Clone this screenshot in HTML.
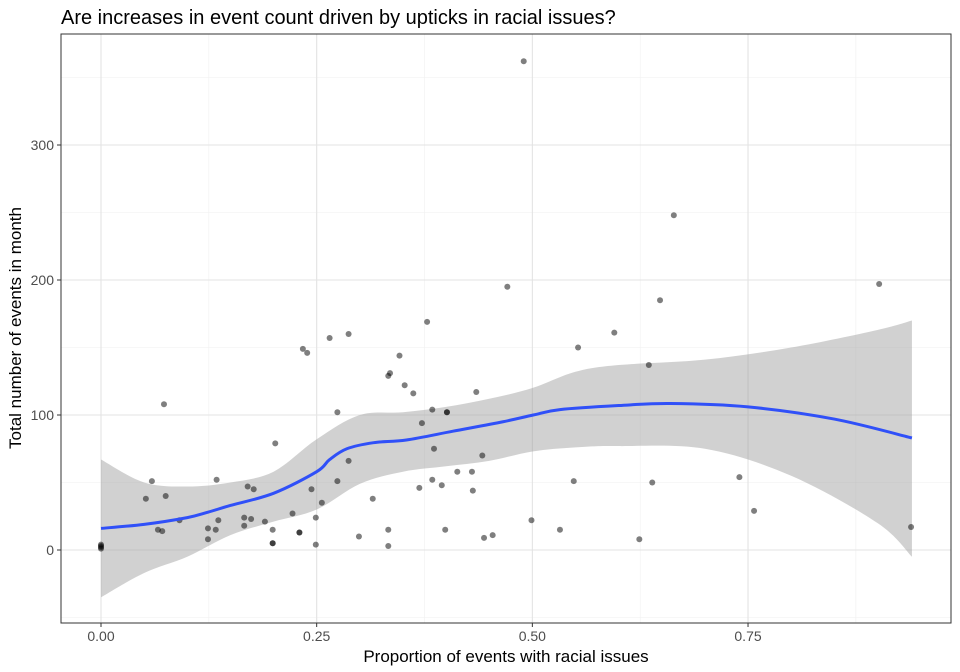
<!DOCTYPE html>
<html><head><meta charset="utf-8"><style>
body{margin:0;background:#fff;}
svg{display:block;font-family:"Liberation Sans",sans-serif;}
</style></head><body>
<svg id="chart" width="960" height="672"></svg>
<script>
const xs=[0,0,0,0,0.073,0.059,0.052,0.075,0.066,0.071,0.091,0.134,0.124,0.133,0.124,0.136,0.170,0.177,0.166,0.174,0.166,0.190,0.199,0.199,0.199,0.230,0.230,0.202,0.222,0.244,0.256,0.249,0.249,0.234,0.239,0.265,0.287,0.378,0.346,0.335,0.333,0.352,0.362,0.274,0.384,0.401,0.401,0.435,0.372,0.386,0.287,0.442,0.274,0.413,0.430,0.384,0.395,0.369,0.431,0.315,0.299,0.333,0.333,0.399,0.444,0.454,0.499,0.532,0.490,0.471,0.553,0.595,0.635,0.648,0.664,0.548,0.639,0.624,0.740,0.757,0.902,0.939];
const ys=[1,2,3,4,108,51,38,40,15,14,22,52,16,15,8,22,47,45,24,23,18,21,15,5,5,13,13,79,27,45,35,24,4,149,146,157,160,169,144,131,129,122,116,102,104,102,102,117,94,75,66,70,51,58,58,52,48,46,44,38,10,15,3,15,9,11,22,15,362,195,150,161,137,185,248,51,50,8,54,29,197,17];
const fitX=[0,0.05,0.1,0.124,0.15,0.2,0.25,0.265,0.285,0.316,0.354,0.408,0.466,0.501,0.532,0.6,0.66,0.75,0.85,0.94];
const fitY=[16,19,24,28,33,42,58,67,75,79.5,81.5,88,95,100,104,107,108.5,106,97,83];
const bandX=[0,0.05,0.1,0.15,0.2,0.25,0.3,0.35,0.4,0.45,0.5,0.55,0.6,0.7,0.8,0.9,0.94];
const bandHi=[67,50,47,50,58,82,100,102,106,112,120,132,137,141,150,163,170];
const bandLo=[-35,-17,-5,11,21,30,49,58,62,66,73,76,77,75,55,20,-5];
const xTicks=[0,0.25,0.5,0.75];const xLabels=["0.00","0.25","0.50","0.75"];
const yTicks=[0,100,200,300];const yLabels=["0","100","200","300"];
const L=61,R=951,T=34,B=623;
const X=v=>101+v*862.7, Y=v=>550-v*1.35;
const svg=document.getElementById('chart');const NS='http://www.w3.org/2000/svg';
function mk(t,a,p){const e=document.createElementNS(NS,t);for(const k in a)e.setAttribute(k,a[k]);(p||svg).appendChild(e);return e;}
function smooth(P,start){let s=start?'M'+P[0][0]+','+P[0][1]:'L'+P[0][0]+','+P[0][1];
for(let i=0;i<P.length-1;i++){const p0=P[i-1]||P[i],p1=P[i],p2=P[i+1],p3=P[i+2]||P[i+1];
s+='C'+(p1[0]+(p2[0]-p0[0])/6)+','+(p1[1]+(p2[1]-p0[1])/6)+' '+(p2[0]-(p3[0]-p1[0])/6)+','+(p2[1]-(p3[1]-p1[1])/6)+' '+p2[0]+','+p2[1];}return s;}
let grid=mk('g',{});


for(const v of [-0.125,0.125,0.375,0.625,0.875]){mk('line',{x1:X(v),x2:X(v),y1:T,y2:B,stroke:'#f0f0f0','stroke-width':0.6},grid);}
for(const v of [-50,50,150,250,350]){mk('line',{x1:L,x2:R,y1:Y(v),y2:Y(v),stroke:'#f0f0f0','stroke-width':0.6},grid);}
for(const v of xTicks){mk('line',{x1:X(v),x2:X(v),y1:T,y2:B,stroke:'#e3e3e3','stroke-width':1.1},grid);}
for(const v of yTicks){mk('line',{x1:L,x2:R,y1:Y(v),y2:Y(v),stroke:'#e3e3e3','stroke-width':1.1},grid);}
const hiP=bandX.map((x,i)=>[X(x),Y(bandHi[i])]);
const loP=bandX.map((x,i)=>[X(x),Y(bandLo[i])]).reverse();
let band=mk('path',{d:smooth(hiP,true)+smooth(loP,false)+'Z',fill:'#999','fill-opacity':0.45});


let pts=mk('g',{});


for(let i=0;i<xs.length;i++){let c=mk('circle',{cx:X(xs[i]),cy:Y(ys[i]),r:3,fill:'#000','fill-opacity':0.5},pts);

}
let fit=mk('path',{d:smooth(fitX.map((x,i)=>[X(x),Y(fitY[i])]),true),fill:'none',stroke:'#3050f8','stroke-width':3,'stroke-linejoin':'round'});


mk('rect',{x:L,y:T,width:R-L,height:B-T,fill:'none',stroke:'#333','stroke-width':1});
for(let i=0;i<xTicks.length;i++){mk('line',{x1:X(xTicks[i]),x2:X(xTicks[i]),y1:B,y2:B+4,stroke:'#333'});
let t=mk('text',{x:X(xTicks[i]),y:B+18,'text-anchor':'middle','font-size':14,fill:'#4d4d4d'});t.textContent=xLabels[i];

}
for(let i=0;i<yTicks.length;i++){mk('line',{x1:L-4,x2:L,y1:Y(yTicks[i]),y2:Y(yTicks[i]),stroke:'#333'});
let t=mk('text',{x:L-7,y:Y(yTicks[i])+5,'text-anchor':'end','font-size':14,fill:'#4d4d4d'});t.textContent=yLabels[i];

}
</script>
<svg style="position:absolute;left:0;top:0" width="960" height="672">
<text x="61" y="24" font-size="20" fill="#000" font-family="Liberation Sans,sans-serif">Are increases in event count driven by upticks in racial issues?</text>
<text x="506" y="662" font-size="17" text-anchor="middle" fill="#000" font-family="Liberation Sans,sans-serif">Proportion of events with racial issues</text>
<text transform="translate(21,328) rotate(-90)" font-size="17" text-anchor="middle" fill="#000" font-family="Liberation Sans,sans-serif">Total number of events in month</text>
</svg>
</body></html>
